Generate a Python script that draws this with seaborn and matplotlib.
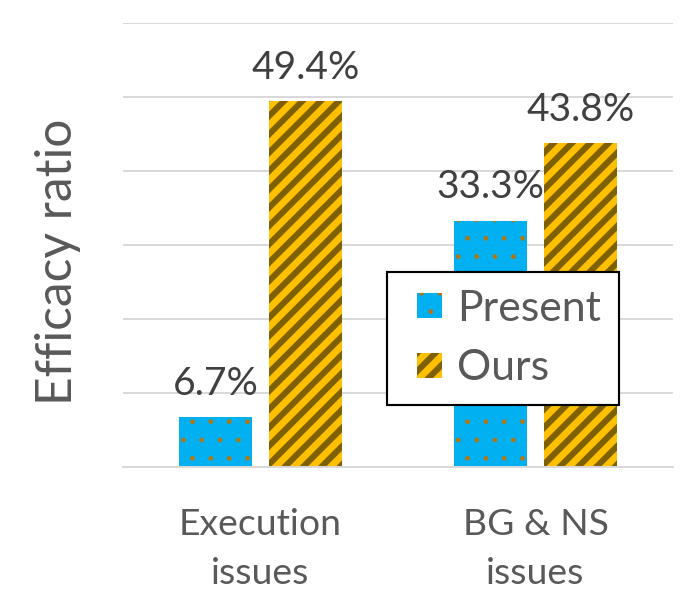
import matplotlib
matplotlib.use("Agg")
import matplotlib.pyplot as plt
import seaborn as sns
import pandas as pd
from matplotlib.patches import Patch, Rectangle
from matplotlib.legend_handler import HandlerBase

categories = ["Execution\nissues", "BG & NS\nissues"]
series = ["Present", "Ours"]
present_vals = [6.7, 33.3]
ours_vals = [49.4, 43.8]

colors = {"Present": "#00B0F0", "Ours": "#FFC000"}
hatch_colors = {"Present": "#B8740A", "Ours": "#7F6000"}
hatches = {"Present": ".", "Ours": "//"}
hatch_lw = {"Present": 0.6, "Ours": 4.0}

df = pd.DataFrame({
    "Category": categories * 2,
    "Series": [series[0]] * len(categories) + [series[1]] * len(categories),
    "Value": present_vals + ours_vals,
})

sns.set_theme(style="white")
FONT = ["Lato", "DejaVu Sans"]
plt.rcParams["font.family"] = FONT
TXT = "#595959"
GRID = "#D9D9D9"


def set_hlw(p, lw):
    if hasattr(p, "set_hatch_linewidth"):
        p.set_hatch_linewidth(lw)
    else:
        p._hatch_linewidth = lw


class SquareHandler(HandlerBase):
    def __init__(self, key, xoff, size):
        super().__init__()
        self.key = key
        self.xoff = xoff
        self.size = size

    def create_artists(self, legend, orig_handle, xdescent, ydescent, width,
                       height, fontsize, trans):
        s = self.size
        r = Rectangle((self.xoff - xdescent, (height - s) / 2 - ydescent), s, s,
                      facecolor=colors[self.key], edgecolor=hatch_colors[self.key],
                      hatch=hatches[self.key], linewidth=0, transform=trans)
        set_hlw(r, hatch_lw[self.key])
        return [r]


DPI = 110
PX = 72 / DPI
fig = plt.figure(figsize=(694 / DPI, 611 / DPI), dpi=DPI)
ax = fig.add_axes([123 / 694, 1 - 467 / 611, 550 / 694, 444 / 611])

sns.barplot(data=df, x="Category", y="Value", hue="Series", order=categories,
            hue_order=series, palette=colors, width=0.655, gap=0.18,
            errorbar=None, ax=ax, legend=False, saturation=1)

for cont, s in zip(ax.containers, series):
    for p in cont:
        p.set_hatch(hatches[s])
        p.set_edgecolor(hatch_colors[s])
        p.set_linewidth(0)
        set_hlw(p, hatch_lw[s])
    labels = [f"{v:.1f}%" for v in cont.datavalues]
    ax.bar_label(cont, labels=labels, padding=10, fontsize=25.5, color="#404040")

ax.set_ylim(0, 60)
ax.set_xlim(-0.5, 1.5)
ax.set_yticks(range(0, 61, 10))
ax.set_yticklabels([])
ax.tick_params(axis="y", length=0)
ax.yaxis.grid(True, color=GRID, linewidth=1.3)
ax.set_axisbelow(True)
for sp in ["top", "right", "left"]:
    ax.spines[sp].set_visible(False)
ax.spines["bottom"].set_color(GRID)
ax.spines["bottom"].set_linewidth(1.3)

ax.set_xticks([0, 1])
ax.set_xticklabels(categories, fontsize=24.5, color=TXT, linespacing=1.6)
ax.tick_params(axis="x", which="major", length=0, pad=27)
ax.set_xticks([-0.5, 0.5, 1.5], minor=True)
ax.tick_params(axis="x", which="minor", length=9, width=1.3, color=GRID, direction="out")

ax.set_xlabel("")
ax.set_ylabel("Efficacy ratio", fontsize=32.5, color=TXT)
ax.yaxis.set_label_coords(-0.076, 0.462)

handles = [Patch(facecolor=colors[s], label=s) for s in series]
hmap = {h: SquareHandler(s, 12 * PX, 25 * PX) for h, s in zip(handles, series)}
leg = ax.legend(handles, series, handler_map=hmap, loc="upper left",
                bbox_to_anchor=(0.48, 0.439), borderaxespad=0, fontsize=28,
                frameon=True, fancybox=False, framealpha=1,
                handlelength=0.865, handleheight=0.6, handletextpad=0.35,
                labelspacing=0.5, borderpad=0.42, labelcolor=TXT)
leg.get_frame().set_edgecolor("black")
leg.get_frame().set_linewidth(1.4)
leg.get_frame().set_facecolor("white")

fig.savefig("out.png", dpi=DPI)
